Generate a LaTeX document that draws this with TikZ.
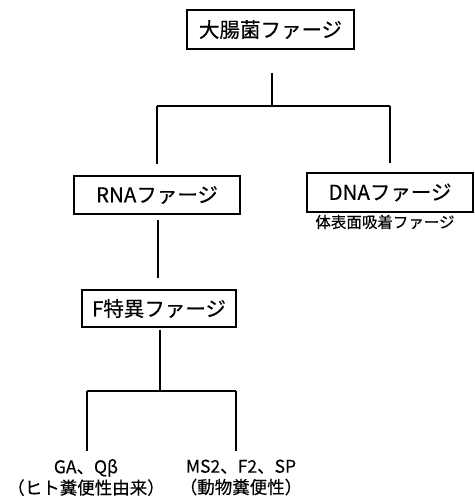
\documentclass[tikz,border=0pt]{standalone}
\usepackage{fontspec}
\setmainfont{Noto Sans CJK JP}[BoldFont={Noto Sans CJK JP},BoldFeatures={FakeBold=0.35}]
\begin{document}
\begin{tikzpicture}[x=1pt,y=-1pt,
  box/.style={draw,line width=1.1pt,inner sep=0pt,font=\fontsize{20.5}{24}\selectfont\bfseries},
  conn/.style={line width=1.8pt},
  sub/.style={inner sep=0pt,font=\fontsize{15.5}{18}\selectfont\bfseries},
  leaf/.style={align=center,inner sep=0pt,font=\fontsize{17.5}{21}\selectfont\bfseries}]
\useasboundingbox (0,0) rectangle (474,500);
\node[box,minimum width=167pt,minimum height=39pt] (top) at (270.5,29.5) {大腸菌ファージ};
\node[box,minimum width=166pt,minimum height=38pt] (rna) at (157,195) {RNAファージ};
\node[box,minimum width=166pt,minimum height=39pt] (dna) at (390,192.5) {DNAファージ};
\node[sub] (dnasub) at (385,222) {体表面吸着ファージ};
\node[box,minimum width=154pt,minimum height=37pt] (fsp) at (159,308.5) {F特異ファージ};
\node[leaf] (ga) at (86,477.5) {GA、Qβ\\（ヒト糞便性由来）};
\node[leaf] (ms) at (241,477.5) {MS2、F2、SP\\（動物糞便性）};
\coordinate (j1) at (272,106);
\coordinate (j1l) at (157,106);
\coordinate (j1r) at (390,106);
\coordinate (j2) at (160,391);
\coordinate (j2l) at (87,391);
\coordinate (j2r) at (236,391);
\draw[conn,shorten <=23pt] (top.south -| j1) -- (j1);
\draw[conn] (j1l) -- (j1r);
\draw[conn,shorten >=11pt] (j1l) -- (rna.north -| j1l);
\draw[conn,shorten >=9pt] (j1r) -- (dna.north -| j1r);
\draw[conn,shorten <=5pt,shorten >=11pt] (rna.south -| 158,0) -- (fsp.north -| 158,0);
\draw[conn,shorten <=2pt] (fsp.south -| j2) -- (j2);
\draw[conn] (j2l) -- (j2r);
\draw[conn,shorten >=8pt] (j2l) -- (ga.north -| j2l);
\draw[conn,shorten >=8pt] (j2r) -- (ms.north -| j2r);
\end{tikzpicture}
\end{document}
